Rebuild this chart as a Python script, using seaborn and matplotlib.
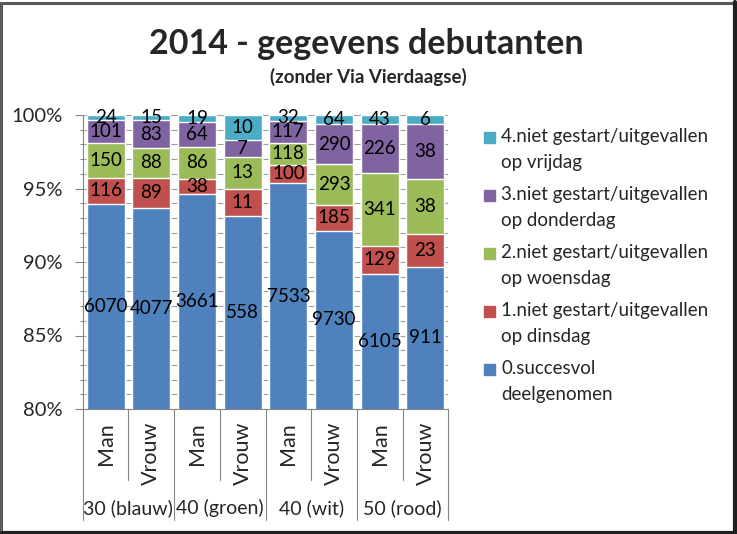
import matplotlib
matplotlib.use("Agg")
import matplotlib.pyplot as plt
from matplotlib.patches import Rectangle
from matplotlib.lines import Line2D
import numpy as np
import pandas as pd
import seaborn as sns

# data
groups = ["30 (blauw)", "40 (groen)", "40 (wit)", "50 (rood)"]
genders = ["Man", "Vrouw"]
series = ["0.succesvol\ndeelgenomen",
          "1.niet gestart/uitgevallen\nop dinsdag",
          "2.niet gestart/uitgevallen\nop woensdag",
          "3.niet gestart/uitgevallen\nop donderdag",
          "4.niet gestart/uitgevallen\nop vrijdag"]
succesvol = [6070, 4077, 3661, 558, 7533, 9730, 6105, 911]
dinsdag = [116, 89, 38, 11, 100, 185, 129, 23]
woensdag = [150, 88, 86, 13, 118, 293, 341, 38]
donderdag = [101, 83, 64, 7, 117, 290, 226, 38]
vrijdag = [24, 15, 19, 10, 32, 64, 43, 6]
colors = ["#4F81BD", "#C0504D", "#9BBB59", "#8064A2", "#4BACC6"]

sns.set_style("white")
plt.rcParams['font.family'] = ['Lato', 'DejaVu Sans']

counts = np.array([succesvol, dinsdag, woensdag, donderdag, vrijdag], dtype=float)
share = counts / counts.sum(axis=0)
cum = np.cumsum(share, axis=0)
keys = [f"{g}|{s}" for g in groups for s in genders]
df = pd.DataFrame({"key": keys})
for i in range(5):
    df[f"c{i}"] = cum[i]

W, H = 737, 534
fig = plt.figure(figsize=(W / 100, H / 100), dpi=100)
x0, x1, y0, y1 = 82.7, 448.3, 115, 409
ax = fig.add_axes([x0 / W, 1 - y1 / H, (x1 - x0) / W, (y1 - y0) / H])

# stacked by overdrawing cumulative heights, top series first
for i in range(4, -1, -1):
    sns.barplot(data=df, x="key", y=f"c{i}", color=colors[i], width=0.83,
                saturation=1, ax=ax, order=keys, zorder=2)

ax.set_ylim(0.8, 1.0)
ax.set_xlim(-0.5, len(keys) - 0.5)
ax.set_xlabel("")
ax.set_ylabel("")
ax.set_xticks([])
ax.set_yticks(np.arange(0.8, 1.001, 0.05))
ax.set_yticks(np.arange(0.8, 1.001, 0.01), minor=True)
ax.set_yticklabels([f"{int(round(v * 100))}%" for v in np.arange(0.8, 1.001, 0.05)],
                   fontsize=14.5)
ax.tick_params(axis="y", which="major", direction="out", length=5.5, width=0.8,
               color="#868686", left=True, pad=9)
ax.tick_params(axis="y", which="minor", direction="out", length=2.5, width=0.8,
               color="#868686", left=True)
ax.grid(axis="y", which="both", color="#a0a0a0", linewidth=0.8)
ax.set_axisbelow(True)
for s in ["top", "right", "bottom"]:
    ax.spines[s].set_visible(False)
ax.spines["left"].set_color("#868686")
ax.spines["left"].set_linewidth(0.8)

# data labels, centred on the visible part of each segment
for j in range(len(keys)):
    for i in range(5):
        lo = 0 if i == 0 else cum[i - 1][j]
        hi = cum[i][j]
        yc = (max(lo, 0.8) + hi) / 2
        ax.text(j, yc, f"{int(counts[i][j])}", ha="center", va="center",
                fontsize=13.5, color="black", zorder=5)

# category axis table
trans = ax.get_xaxis_transform()
ax.plot([-0.5, len(keys) - 0.5], [0, 0], color="#868686", lw=0.8,
        transform=trans, clip_on=False, zorder=3)
for k in range(len(keys) + 1):
    xb = k - 0.5
    low = -0.378 if k % 2 == 0 else -0.241
    ax.plot([xb, xb], [0, low], color="#868686", lw=0.8, transform=trans,
            clip_on=False)
for j, key in enumerate(keys):
    ax.text(j, -0.044, key.split("|")[1], rotation=90, ha="center", va="top",
            fontsize=15.5, transform=trans)
for g, name in enumerate(groups):
    ax.text(2 * g + 0.5, -0.337, name, ha="center", va="center", fontsize=14,
            transform=trans)

# legend
for n, i in enumerate(range(4, -1, -1)):
    ytop = 132 + n * 58
    fig.patches.append(Rectangle((484 / W, 1 - (ytop + 11) / H), 11 / W, 11 / H,
                                 transform=fig.transFigure, color=colors[i]))
    fig.text(501 / W, 1 - (ytop - 4) / H, series[i], ha="left", va="top",
             fontsize=13.5, linespacing=1.65)

fig.text(366 / W, 1 - 44 / H, "2014 - gegevens debutanten", ha="center",
         va="center", fontsize=24.5, fontweight="bold")
fig.text(368 / W, 1 - 77 / H, "(zonder Via Vierdaagse)", ha="center",
         va="center", fontsize=13.5, fontweight="bold")

# chart frame
fig.patches.append(Rectangle((1.5 / W, 1.5 / H), (W - 5) / W, (H - 4.5) / H,
                             transform=fig.transFigure, fill=False,
                             edgecolor="#5a5a5a", linewidth=2.2))
fig.lines.append(Line2D([(W - 2) / W, (W - 2) / W], [1 / H, 1 - 2 / H],
                        transform=fig.transFigure, color="#202020", lw=3))
fig.lines.append(Line2D([2 / W, 1 - 1 / W], [1.5 / H, 1.5 / H],
                        transform=fig.transFigure, color="#202020", lw=3))

fig.savefig("out.png", dpi=100)
